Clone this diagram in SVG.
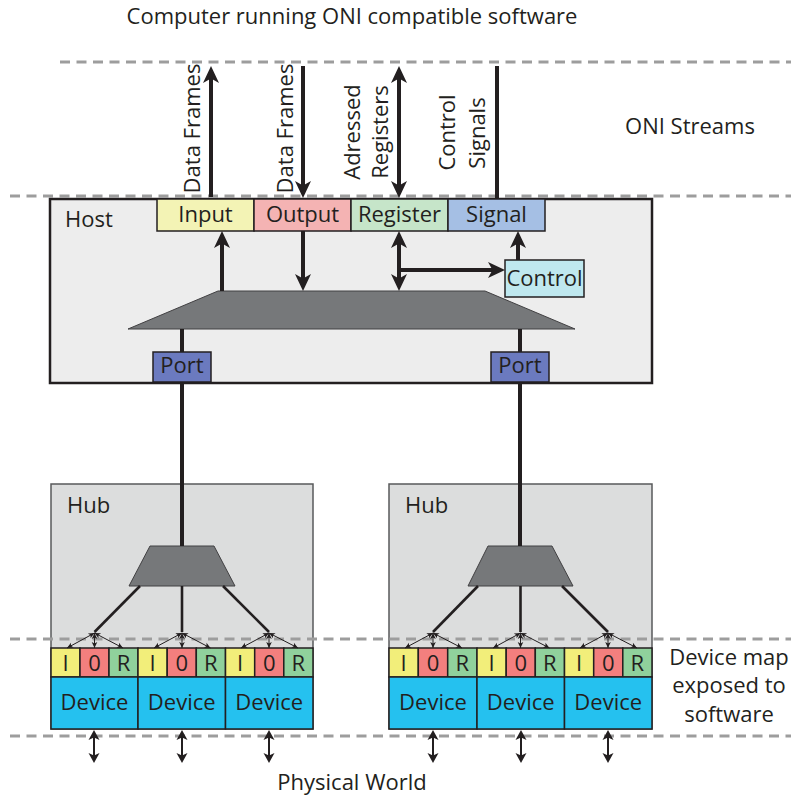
<svg xmlns="http://www.w3.org/2000/svg" width="791" height="796" viewBox="0 0 791 796">
<style>
text{font-family:"Open Sans","Noto Sans","DejaVu Sans",sans-serif;font-size:22px;fill:#231f20}
.c{text-anchor:middle}
.dash{stroke:#9d9d9d;stroke-width:3;stroke-dasharray:10 6.5;fill:none}
.box{stroke:#231f20;stroke-width:1.5}
.trap{fill:#76787a;stroke:#414042;stroke-width:1}
.thick{stroke:#231f20;stroke-width:4;fill:none}
.fan{stroke:#231f20;stroke-width:2.6;fill:none}
.thin{stroke:#231f20;stroke-width:1;fill:none}
.mid{stroke:#231f20;stroke-width:2;fill:none}
.ci{fill:#f2ee7a}.co{fill:#f37f7e}.cr{fill:#90d19c}.cd{fill:#25c1ef}
</style>
<defs>
<marker id="ah" viewBox="-18 -9 19 18" refX="-9" refY="0" markerWidth="19" markerHeight="18" markerUnits="userSpaceOnUse" orient="auto-start-reverse"><path d="M0,0 L-17,-8 L-12.5,0 L-17,8 Z" fill="#231f20"/></marker>
<marker id="am" viewBox="-11 -6 12 12" refX="-4" refY="0" markerWidth="12" markerHeight="12" markerUnits="userSpaceOnUse" orient="auto-start-reverse"><path d="M0,0 L-10,-5.5 L-7.5,0 L-10,5.5 Z" fill="#231f20"/></marker>
<marker id="as" viewBox="-7 -3.5 8 7" refX="0" refY="0" markerWidth="8" markerHeight="7" markerUnits="userSpaceOnUse" orient="auto-start-reverse"><path d="M0,0 L-6,-2.8 L-4.5,0 L-6,2.8 Z" fill="#231f20"/></marker>
</defs>
<rect width="791" height="796" fill="#ffffff"/>

<g id="labels">
<text class="c" x="352" y="24">Computer running ONI compatible software</text>
<text class="c" x="690" y="134">ONI Streams</text>
<text class="c" x="729" y="665">Device map</text>
<text class="c" x="729" y="693">exposed to</text>
<text class="c" x="729" y="722">software</text>
<text class="c" x="352" y="790">Physical World</text>
<text class="c" transform="translate(200,128.5) rotate(-90)">Data Frames</text>
<text class="c" transform="translate(293,128.5) rotate(-90)">Data Frames</text>
<text class="c" transform="translate(360,132) rotate(-90)">Adressed</text>
<text class="c" transform="translate(388,132) rotate(-90)">Registers</text>
<text class="c" transform="translate(455,132.5) rotate(-90)">Control</text>
<text class="c" transform="translate(485,133) rotate(-90)">Signals</text>
</g>

<g id="boundaries">
<line class="dash" x1="60" y1="62" x2="791" y2="62"/>
<line class="dash" x1="10" y1="196" x2="791" y2="196"/>
</g>

<g id="host">
<rect x="50" y="199" width="602" height="184" fill="#ededed" stroke="#231f20" stroke-width="2.5"/>
<text x="65" y="227">Host</text>
<polygon class="trap" points="218,291 485,291 575,329 128,329"/>
</g>
<g id="input"><rect class="box" x="157" y="199" width="97" height="32" fill="#f3f3b5"/><text class="c" x="205.5" y="222">Input</text></g>
<g id="output"><rect class="box" x="254" y="199" width="97" height="32" fill="#f4b3b3"/><text class="c" x="302.5" y="222">Output</text></g>
<g id="register"><rect class="box" x="351" y="199" width="97" height="32" fill="#c6e5c9"/><text class="c" x="399.5" y="222">Register</text></g>
<g id="signal"><rect class="box" x="448" y="199" width="97" height="32" fill="#a5bfe4"/><text class="c" x="496.5" y="222">Signal</text></g>
<g id="control"><rect class="box" x="505" y="260" width="79" height="37" fill="#bfe8ef"/><text class="c" x="544.5" y="286">Control</text></g>
<g id="port1"><rect class="box" x="153" y="352" width="58" height="30" fill="#6b7abf"/><text class="c" x="182" y="373">Port</text></g>
<g id="port2"><rect class="box" x="491" y="352" width="58" height="30" fill="#6b7abf"/><text class="c" x="520" y="373">Port</text></g>

<g id="hub1">
<rect x="51" y="484" width="262" height="245" fill="#dcdddd" stroke="#58595b" stroke-width="1.5"/>
<text x="67" y="513">Hub</text>
<polygon class="trap" points="150,546 214,546 235,586 129,586"/>
</g>
<g id="hub2">
<rect x="389" y="484" width="263" height="245" fill="#dcdddd" stroke="#58595b" stroke-width="1.5"/>
<text x="405" y="513">Hub</text>
<polygon class="trap" points="488,546 552,546 573,586 468,586"/>
</g>

<g id="device1">
<rect class="box ci" x="51" y="648" width="29" height="29"/><rect class="box co" x="80" y="648" width="29" height="29"/><rect class="box cr" x="109" y="648" width="29" height="29"/>
<rect class="box cd" x="51" y="677" width="87" height="52"/>
<text class="c" x="65.5" y="671">I</text><text class="c" x="94.5" y="671">0</text><text class="c" x="123.5" y="671">R</text>
<text class="c" x="94.5" y="710">Device</text>
</g>
<g id="device2">
<rect class="box ci" x="138" y="648" width="29.2" height="29"/><rect class="box co" x="167.2" y="648" width="29.1" height="29"/><rect class="box cr" x="196.3" y="648" width="29.2" height="29"/>
<rect class="box cd" x="138" y="677" width="87.5" height="52"/>
<text class="c" x="152.6" y="671">I</text><text class="c" x="181.75" y="671">0</text><text class="c" x="210.9" y="671">R</text>
<text class="c" x="181.75" y="710">Device</text>
</g>
<g id="device3">
<rect class="box ci" x="225.5" y="648" width="29.2" height="29"/><rect class="box co" x="254.7" y="648" width="29.1" height="29"/><rect class="box cr" x="283.8" y="648" width="29.2" height="29"/>
<rect class="box cd" x="225.5" y="677" width="87.5" height="52"/>
<text class="c" x="240.1" y="671">I</text><text class="c" x="269.25" y="671">0</text><text class="c" x="298.4" y="671">R</text>
<text class="c" x="269.25" y="710">Device</text>
</g>
<g id="device4">
<rect class="box ci" x="389" y="648" width="29.3" height="29"/><rect class="box co" x="418.3" y="648" width="29.4" height="29"/><rect class="box cr" x="447.7" y="648" width="29.3" height="29"/>
<rect class="box cd" x="389" y="677" width="88" height="52"/>
<text class="c" x="403.7" y="671">I</text><text class="c" x="433" y="671">0</text><text class="c" x="462.3" y="671">R</text>
<text class="c" x="433" y="710">Device</text>
</g>
<g id="device5">
<rect class="box ci" x="477" y="648" width="29.2" height="29"/><rect class="box co" x="506.2" y="648" width="29.1" height="29"/><rect class="box cr" x="535.3" y="648" width="29.2" height="29"/>
<rect class="box cd" x="477" y="677" width="87.5" height="52"/>
<text class="c" x="491.6" y="671">I</text><text class="c" x="520.75" y="671">0</text><text class="c" x="549.9" y="671">R</text>
<text class="c" x="520.75" y="710">Device</text>
</g>
<g id="device6">
<rect class="box ci" x="564.5" y="648" width="29.2" height="29"/><rect class="box co" x="593.7" y="648" width="29.1" height="29"/><rect class="box cr" x="622.8" y="648" width="29.2" height="29"/>
<rect class="box cd" x="564.5" y="677" width="87.5" height="52"/>
<text class="c" x="579.1" y="671">I</text><text class="c" x="608.25" y="671">0</text><text class="c" x="637.4" y="671">R</text>
<text class="c" x="608.25" y="710">Device</text>
</g>

<g id="boundaries-lower">
<line class="dash" x1="10" y1="639" x2="791" y2="639"/>
<line class="dash" x1="10" y1="736" x2="791" y2="736"/>
</g>

<g id="connectors">
<line class="thick" x1="211" y1="197" x2="211" y2="75" marker-end="url(#ah)"/>
<line class="thick" x1="303" y1="66" x2="303" y2="189" marker-end="url(#ah)"/>
<line class="thick" x1="399" y1="75" x2="399" y2="189" marker-start="url(#ah)" marker-end="url(#ah)"/>
<line class="thick" x1="497" y1="66" x2="497" y2="199"/>
<line class="thick" x1="222" y1="291" x2="222" y2="240" marker-end="url(#ah)"/>
<line class="thick" x1="303" y1="231" x2="303" y2="282" marker-end="url(#ah)"/>
<line class="thick" x1="399" y1="240" x2="399" y2="282" marker-start="url(#ah)" marker-end="url(#ah)"/>
<line class="thick" x1="397" y1="270" x2="496" y2="270" marker-end="url(#ah)"/>
<line class="thick" x1="518" y1="260" x2="518" y2="240" marker-end="url(#ah)"/>
<line class="thick" x1="182" y1="329" x2="182" y2="352"/>
<line class="thick" x1="520" y1="329" x2="520" y2="352"/>
<line class="thick" x1="182" y1="382" x2="182" y2="546"/>
<line class="thick" x1="520" y1="382" x2="520" y2="546"/>
<line class="fan" x1="140" y1="586" x2="94.5" y2="632"/>
<line class="fan" x1="182" y1="586" x2="182" y2="632"/>
<line class="fan" x1="223" y1="586" x2="269" y2="632"/>
<line class="fan" x1="478" y1="586" x2="433" y2="632"/>
<line class="fan" x1="520.5" y1="586" x2="520.5" y2="632"/>
<line class="fan" x1="562" y1="586" x2="608" y2="632"/>
<g marker-start="url(#as)" marker-end="url(#as)">
<line class="thin" x1="94.5" y1="633" x2="67" y2="648"/><line class="thin" x1="94.5" y1="633" x2="94.5" y2="648"/><line class="thin" x1="94.5" y1="633" x2="123" y2="648"/>
<line class="thin" x1="182" y1="633" x2="154" y2="648"/><line class="thin" x1="182" y1="633" x2="182" y2="648"/><line class="thin" x1="182" y1="633" x2="210.5" y2="648"/>
<line class="thin" x1="269" y1="633" x2="241" y2="648"/><line class="thin" x1="269" y1="633" x2="269" y2="648"/><line class="thin" x1="269" y1="633" x2="298" y2="648"/>
<line class="thin" x1="433" y1="633" x2="405" y2="648"/><line class="thin" x1="433" y1="633" x2="433" y2="648"/><line class="thin" x1="433" y1="633" x2="462" y2="648"/>
<line class="thin" x1="520.5" y1="633" x2="493" y2="648"/><line class="thin" x1="520.5" y1="633" x2="520.5" y2="648"/><line class="thin" x1="520.5" y1="633" x2="549.5" y2="648"/>
<line class="thin" x1="608" y1="633" x2="580" y2="648"/><line class="thin" x1="608" y1="633" x2="608" y2="648"/><line class="thin" x1="608" y1="633" x2="637" y2="648"/>
</g>
<g marker-start="url(#am)" marker-end="url(#am)">
<line class="mid" x1="94" y1="734" x2="94" y2="759"/>
<line class="mid" x1="182" y1="734" x2="182" y2="759"/>
<line class="mid" x1="269" y1="734" x2="269" y2="759"/>
<line class="mid" x1="433" y1="734" x2="433" y2="759"/>
<line class="mid" x1="521" y1="734" x2="521" y2="759"/>
<line class="mid" x1="608" y1="734" x2="608" y2="759"/>
</g>
</g>
</svg>
